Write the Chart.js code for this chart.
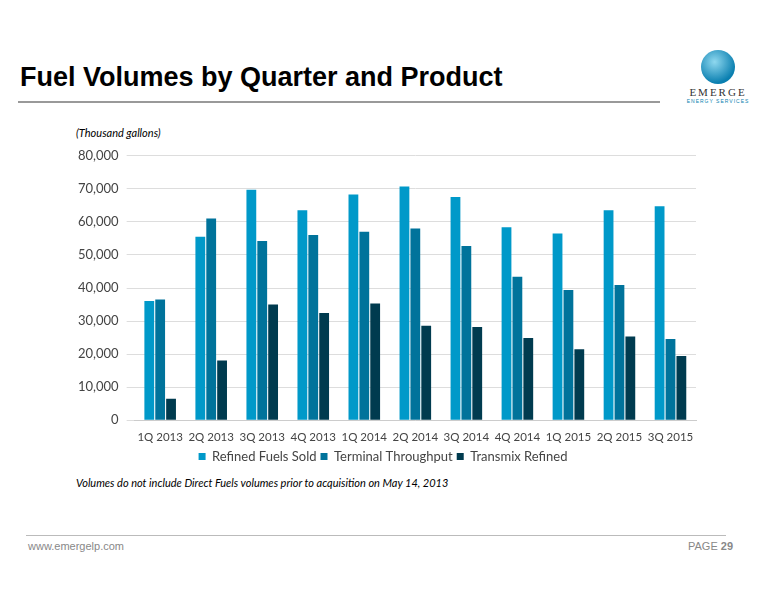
<!DOCTYPE html>
<html>
<head>
<meta charset="utf-8">
<script src="https://cdn.jsdelivr.net/npm/chart.js@4"></script>
<style>
  body { margin:0; width:776px; height:600px; background:#fff; position:relative; font-family: Arial, "Liberation Sans", sans-serif; overflow:hidden; }
  #title { position:absolute; left:20px; top:62px; font-size:27px; font-weight:bold; color:#000; }
  #rule { position:absolute; left:18px; top:101px; width:642px; height:2px; background:#999; }
  #logo { position:absolute; left:683px; top:50px; width:70px; text-align:center; }
  #logo .globe { width:34px; height:34px; margin:0 auto; border-radius:50%; background:radial-gradient(circle at 40% 35%, #8fd8ef, #0a7fb0 70%); }
  #logo .name { font-family:"Liberation Serif", serif; font-size:11px; letter-spacing:2px; color:#333; margin-top:2px; }
  #logo .sub { font-size:5px; letter-spacing:1px; color:#0a7fb0; }
  #units { position:absolute; left:76px; top:126px; font-family:Lato, sans-serif; font-style:italic; font-size:11px; }
  #note { position:absolute; left:76px; top:476px; font-family:Lato, sans-serif; font-style:italic; font-size:11px; }
  #wrap { position:absolute; left:70px; top:140px; width:630px; height:333px; }
  #frule { position:absolute; left:26px; top:535px; width:700px; height:1px; background:#bbb; }
  #url { position:absolute; left:28px; top:540px; font-size:11px; color:#888; }
  #page { position:absolute; left:688px; top:540px; font-size:11px; color:#888; }
</style>
</head>
<body>
<div id="title">Fuel Volumes by Quarter and Product</div>
<div id="rule"></div>
<div id="logo"><div class="globe"></div><div class="name">EMERGE</div><div class="sub">ENERGY SERVICES</div></div>
<div id="units">(Thousand gallons)</div>
<div id="wrap"><canvas id="c"></canvas></div>
<div id="note">Volumes do not include Direct Fuels volumes prior to acquisition on May 14, 2013</div>
<div id="frule"></div>
<div id="url">www.emergelp.com</div>
<div id="page">PAGE <b>29</b></div>
<script>
const quarters = ["1Q 2013","2Q 2013","3Q 2013","4Q 2013","1Q 2014","2Q 2014","3Q 2014","4Q 2014","1Q 2015","2Q 2015","3Q 2015"];
const refinedFuelsSold = [36100, 55500, 69700, 63500, 68300, 70700, 67500, 58400, 56500, 63500, 64700];
const terminalThroughput = [36500, 61000, 54200, 56000, 57000, 58000, 52700, 43400, 39400, 40900, 24600];
const transmixRefined = [6500, 18100, 35000, 32400, 35300, 28600, 28200, 24900, 21500, 25300, 19400];

Chart.defaults.font.family = "Lato, 'Open Sans', sans-serif";
Chart.defaults.color = '#444';

new Chart(document.getElementById('c').getContext('2d'), {
  type: 'bar',
  data: {
    labels: quarters,
    datasets: [
      { label: 'Refined Fuels Sold', data: refinedFuelsSold, backgroundColor: '#0099c9' },
      { label: 'Terminal Throughput', data: terminalThroughput, backgroundColor: '#00739b' },
      { label: 'Transmix Refined', data: transmixRefined, backgroundColor: '#003b4f' }
    ]
  },
  options: {
    responsive: true,
    maintainAspectRatio: false,
    animation: false,
    datasets: { bar: { categoryPercentage: 0.64, barPercentage: 0.9 } },
    layout: { padding: { right: 4, top: 6 } },
    plugins: {
      legend: { position: 'bottom', labels: { boxWidth: 7, boxHeight: 7, font: { size: 13 }, padding: 4 } },
      tooltip: { enabled: false }
    },
    scales: {
      x: { grid: { display: false }, border: { color: '#ccc' }, ticks: { font: { size: 11.5 }, maxRotation: 0, autoSkip: false, padding: 2 } },
      y: {
        min: 0, max: 80000,
        ticks: { stepSize: 10000, font: { size: 13 }, padding: 8, callback: v => v.toLocaleString('en-US') },
        grid: { color: '#ddd' },
        border: { display: false }
      }
    }
  }
});
</script>
</body>
</html>
